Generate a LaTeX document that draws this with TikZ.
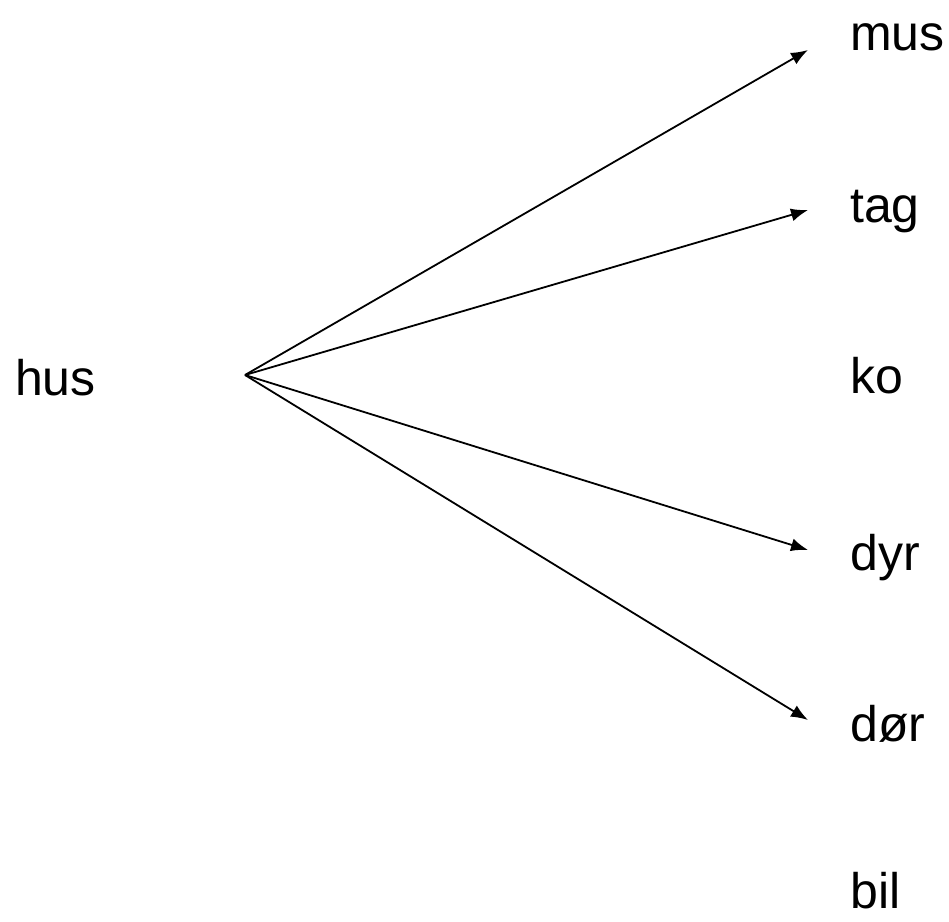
\documentclass[tikz,border=0pt]{standalone}
\usepackage{fontspec}
\setmainfont{Liberation Sans}
\usetikzlibrary{arrows.meta}

\begin{document}
\begin{tikzpicture}[x=1pt,y=-1pt,
    word/.style={anchor=base west,inner sep=0pt,font=\fontsize{50}{60}\selectfont},
    link/.style={line width=1.8pt,-{Latex[length=17pt,width=13pt]}}]
            \useasboundingbox (0,0) rectangle (949,921);
            \node[word] (hus) at (15,395) {hus};
            \coordinate (src) at (245,375);
            \foreach \n/\w/\y in {mus/mus/50, tag/tag/222, ko/ko/393, dyr/dyr/570, dor/dør/741, bil/bil/908}
                \node[word] (\n) at (850,\y) {\w};
            \foreach \n/\y in {mus/50, tag/210, dyr/550, dor/720}
                {\coordinate (t\n) at (808,\y);
                \draw[link] (src) -- (t\n);}
        \end{tikzpicture}
\end{document}
